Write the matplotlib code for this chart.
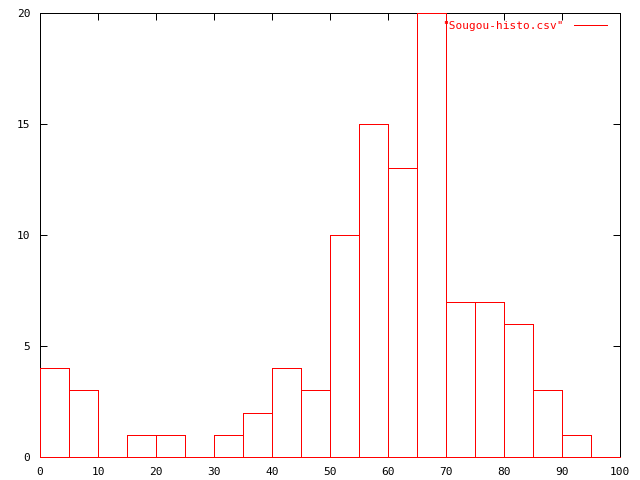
import matplotlib
matplotlib.use('Agg')
import matplotlib.pyplot as plt
import numpy as np

# histogram bins (left edge) and counts
bin_left = [0, 5, 10, 15, 20, 25, 30, 35, 40, 45, 50, 55, 60, 65, 70, 75, 80, 85, 90]
counts = [4, 3, 0, 1, 1, 0, 1, 2, 4, 3, 10, 15, 13, 20, 7, 7, 6, 3, 1]
label = '"Sougou-histo.csv"'
xticks = [0, 10, 20, 30, 40, 50, 60, 70, 80, 90, 100]
yticks = [0, 5, 10, 15, 20]

plt.rcParams['font.family'] = 'DejaVu Sans Mono'

fig = plt.figure(figsize=(6.4, 4.8), dpi=100)
ax = fig.add_axes([40 / 640, 23 / 480, 580 / 640, 444 / 480])

ax.bar(bin_left, counts, width=5, align='edge', fill=False,
       edgecolor='red', linewidth=0.72, antialiased=False, zorder=3)
# gnuplot draws the zero line in the plot colour
ax.axhline(0, color='red', linewidth=0.72, antialiased=False, zorder=4, clip_on=False)

ax.set_xlim(0, 100)
ax.set_ylim(0, 20)
ax.set_xticks(xticks)
ax.set_yticks(yticks)
ax.tick_params(direction='in', length=5, width=0.72, top=True, right=True,
               labelsize=8, pad=7)
for s in ax.spines.values():
    s.set_linewidth(0.72)

h = plt.Line2D([], [], color='red', linewidth=0.72)
leg = ax.legend([h], [label], loc='upper right', frameon=False, markerfirst=False,
                handlelength=3.0, fontsize=8, labelcolor='red',
                bbox_to_anchor=(0.995, 1.005), handletextpad=0.9)

fig.savefig('out.png', dpi=100)
